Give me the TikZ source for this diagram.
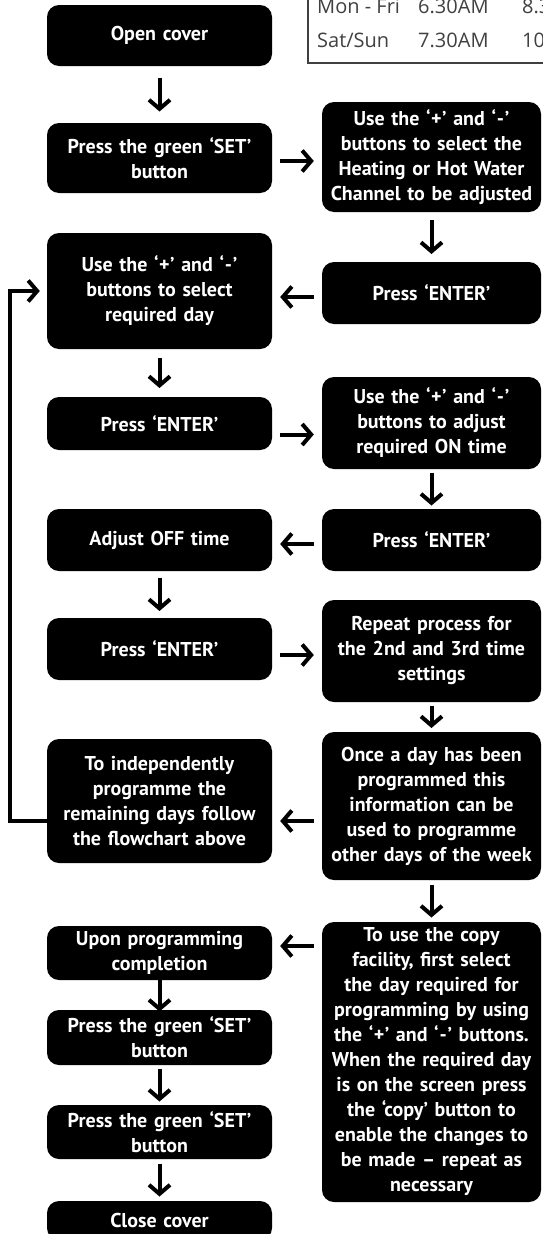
\documentclass[tikz,border=0pt]{standalone}
\usepackage{fontspec}
\setmainfont{PT Sans}
\newfontfamily\tabfont{Open Sans}
\usetikzlibrary{arrows.meta,calc}

\newcommand\plusq{‘\kern0.5pt+\kern0.5pt’}
\newcommand\minusq{‘\kern0.8pt\mbox{-}\kern0.8pt’}

\tikzset{
	stepbox/.style={fill=black,text=white,rounded corners=12pt,align=center,inner sep=0pt,
		font=\fontsize{20}{25}\selectfont\bfseries},
	lbox/.style={stepbox,minimum width=225pt,text width=223pt},
	rbox/.style={stepbox,minimum width=219pt,text width=217pt},
	flow/.style={line width=4pt,-{Straight Barb[length=9pt,width=21pt]}},
	hflow/.style={flow,shorten <=8pt,shorten >=8pt},
	tabtext/.style={anchor=base west,inner sep=0pt,text=black!75,font=\tabfont\fontsize{20}{25}\selectfont}
}

\begin{document}
\begin{tikzpicture}[x=1pt,y=-1pt]
	\useasboundingbox (0,0) rectangle (543,1234);
	\clip (0,0) rectangle (543,1234);

	\draw[black!75,line width=1.3pt] (308,-20) rectangle (600,63);
	\node[tabtext] (monfri) at (317,13) {Mon - Fri};
	\node[tabtext] (monon) at (418,13) {6.30AM};
	\node[tabtext] (monoff) at (522,13) {8.3};
	\node[tabtext] (satsun) at (317,47) {Sat/Sun};
	\node[tabtext] (saton) at (418,47) {7.30AM};
	\node[tabtext] (satoff) at (522,47) {10};

	\node[lbox,minimum height=61pt] (open) at (159.5,35.5) {Open cover};
	\node[lbox,minimum height=70pt] (set1) at (159.5,158) {Press the green ‘SET’\\button};
	\node[rbox,minimum height=110pt] (chan) at (431.5,157) {Use the \plusq{} and \minusq\\buttons to select the\\Heating or Hot Water\\Channel to be adjusted};
	\node[rbox,minimum height=62pt] (enterA) at (431.5,293) {Press ‘ENTER’};
	\node[lbox,minimum height=116pt] (req) at (159.5,291) {Use the \plusq{} and \minusq\\buttons to select\\required day};
	\node[lbox,minimum height=53pt] (enterB) at (159.5,423.5) {Press ‘ENTER’};
	\node[rbox,minimum height=92pt] (onTime) at (431.5,423) {Use the \plusq{} and \minusq\\buttons to adjust\\required ON time};
	\node[rbox,minimum height=62pt] (enterC) at (431.5,540) {Press ‘ENTER’};
	\node[lbox,minimum height=62pt] (off) at (159.5,540) {Adjust OFF time};
	\node[lbox,minimum height=62pt] (enterD) at (159.5,649) {Press ‘ENTER’};
	\node[rbox,minimum height=102pt] (rep) at (431.5,651) {Repeat process for\\the 2nd and 3rd time\\settings};
	\node[rbox,minimum height=148pt] (once) at (431.5,806) {Once a day has been\\programmed this\\information can be\\used to programme\\other days of the week};
	\node[lbox,minimum height=124pt] (indep) at (159.5,801) {To independently\\programme the\\remaining days follow\\the flowchart above};
	\node[rbox,minimum height=280pt] (copy) at (431.5,1062) {To use the copy\\facility, first select\\the day required for\\programming by using\\the \plusq{} and \minusq{} buttons.\\When the required day\\is on the screen press\\the ‘copy’ button to\\enable the changes to\\be made – repeat as\\necessary};
	\node[lbox,minimum height=54pt] (upon) at (159.5,953) {Upon programming\\completion};
	\node[lbox,minimum height=55pt] (set2) at (159.5,1037.5) {Press the green ‘SET’\\button};
	\node[lbox,minimum height=54pt] (set3) at (159.5,1132) {Press the green ‘SET’\\button};
	\node[lbox,minimum height=39pt] (close) at (159.5,1220.5) {Close cover};

	\foreach \a/\b/\l in {open/set1/34,chan/enterA/34,req/enterB/30,onTime/enterC/33,off/enterD/33,
		rep/once/22,once/copy/33,upon/set2/33,set2/set3/33,set3/close/33}
		\draw[flow] ($(\a.south)!.5!(\b.north)+(0,-\l/2)$) -- ++(0,\l);

	\draw[hflow] ($(set1.east)+(0,3)$) -- ($(set1.east -| chan.west)+(0,3)$);
	\draw[hflow] ($(enterA.west)+(0,4)$) -- ($(enterA.west -| req.east)+(0,4)$);
	\draw[hflow] ($(enterB.east)+(0,11)$) -- ($(enterB.east -| onTime.west)+(0,11)$);
	\draw[hflow] ($(enterC.west)+(0,4)$) -- ($(enterC.west -| off.east)+(0,4)$);
	\draw[hflow] ($(enterD.east)+(0,6)$) -- ($(enterD.east -| rep.west)+(0,6)$);
	\draw[hflow] ($(once.west)+(0,15)$) -- ($(once.west -| indep.east)+(0,15)$);
	\draw[hflow] ($(upon.east -| copy.west)+(0,-7)$) -- ($(upon.east)+(0,-7)$);

	\draw[flow,shorten >=7pt] ($(indep.west)+(0,20)$) -| ($(req.west)+(-37,0)$) -- (req.west);
\end{tikzpicture}
\end{document}
